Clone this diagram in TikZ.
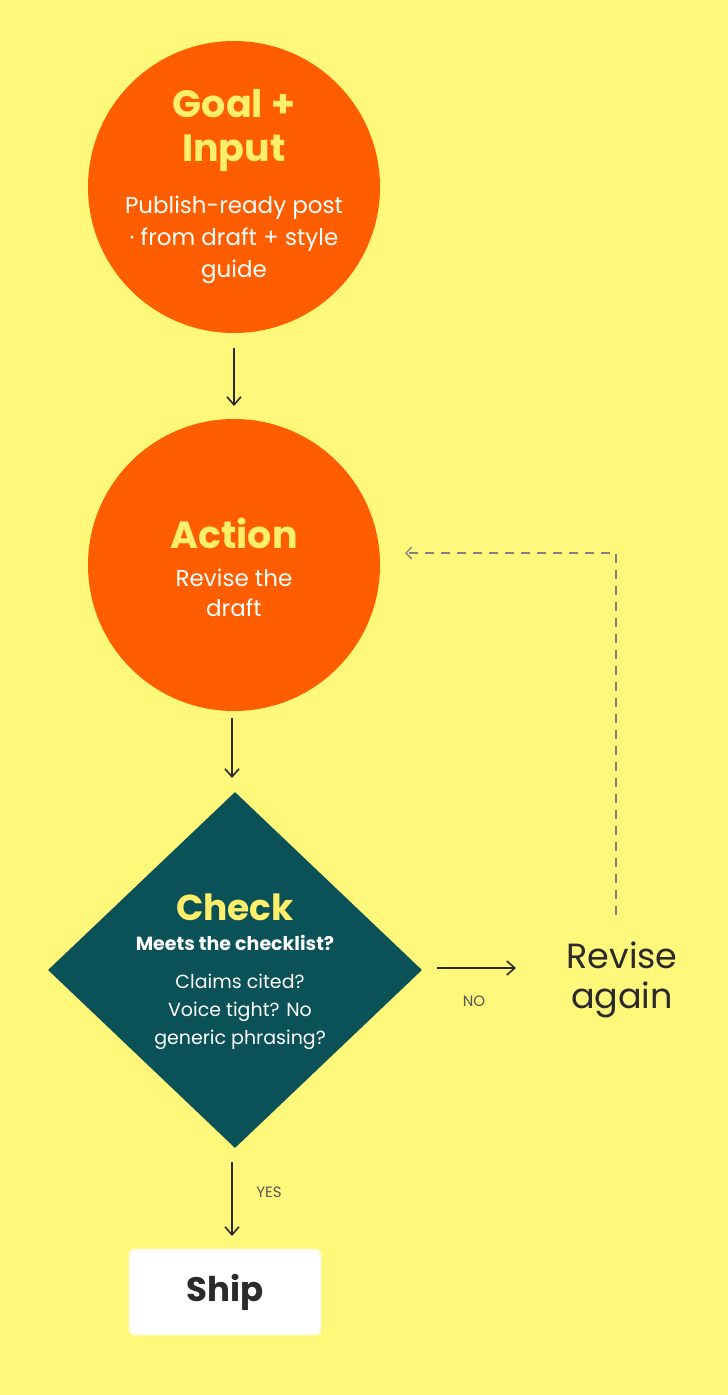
\documentclass[tikz,border=0pt]{standalone}
\usepackage{fontspec}
\setmainfont{Poppins}
\usetikzlibrary{shapes.geometric,arrows.meta}
\definecolor{bg}{HTML}{FFF87A}
\definecolor{org}{HTML}{FF5E00}
\definecolor{teal}{HTML}{0A5257}
\definecolor{ttl}{HTML}{FFEF6A}
\definecolor{ink}{HTML}{2A2A2A}
\tikzset{
  circ/.style={circle,fill=org,minimum size=292pt,inner sep=0pt,align=center,text=white},
  flow/.style={draw=ink,line width=1.6pt,-{Straight Barb[length=8pt,width=14pt]}},
  lbl/.style={text=ink!80,font=\fontsize{15}{18}\selectfont},
}
\begin{document}
\begin{tikzpicture}[x=1pt,y=-1pt]
\fill[bg] (0,0) rectangle (728,1395);
\useasboundingbox (0,0) rectangle (728,1395);
\node[circ] (goal) at (234,187) {};
\node[align=center,text=ttl,font=\bfseries\fontsize{38}{44}\selectfont] at (234,130) {Goal +\\Input};
\node[align=center,text=white,font=\fontsize{23}{32}\selectfont] at (234,240) {Publish-ready post\\· from draft + style\\guide};
\node[circ] (act) at (234,565) {};
\node[text=ttl,font=\bfseries\fontsize{38}{44}\selectfont] at (234,533) {Action};
\node[align=center,text=white,font=\fontsize{23}{30}\selectfont] at (234,593) {Revise the\\draft};
\node[diamond,fill=teal,minimum width=374pt,minimum height=356pt,inner sep=0pt,aspect=1.05] (chk) at (235,970) {};
\node[text=ttl,font=\bfseries\fontsize{36}{40}\selectfont] at (235,907) {Check};
\node[text=white,font=\bfseries\fontsize{19}{22}\selectfont] at (235,943) {Meets the checklist?};
\node[align=center,text=white,font=\fontsize{19}{28}\selectfont] at (240,1012) {Claims cited?\\Voice tight? No\\generic phrasing?};
\node[text=ink,font=\fontsize{35}{40}\selectfont,align=center] (rev) at (622,980) {Revise\\again};
\node[fill=white,rounded corners=6pt,minimum width=192pt,minimum height=86pt] (ship) at (225,1292) {};
\node[text=ink,font=\bfseries\fontsize{34}{40}\selectfont] at (225,1292) {Ship};
\coordinate (a1s) at (234,348); \coordinate (a1e) at (234,406);
\draw[flow] (a1s) -- (a1e);
\coordinate (a2s) at (232,718); \coordinate (a2e) at (232,778);
\draw[flow] (a2s) -- (a2e);
\coordinate (a3s) at (437,968); \coordinate (a3e) at (516,968);
\draw[flow] (a3s) -- (a3e);
\node[lbl] at (474,1001) {NO};
\coordinate (a4s) at (232,1162); \coordinate (a4e) at (232,1236);
\draw[flow] (a4s) -- (a4e);
\node[lbl] at (269,1192) {YES};
\coordinate (d1) at (616,915); \coordinate (d2) at (616,553); \coordinate (d3) at (405,553);
\draw[draw=gray,line width=1.3pt,dash pattern=on 9pt off 7pt,-{Straight Barb[length=6pt,width=12pt]}] (d1) -- (d2) -- (d3);
\end{tikzpicture}
\end{document}
